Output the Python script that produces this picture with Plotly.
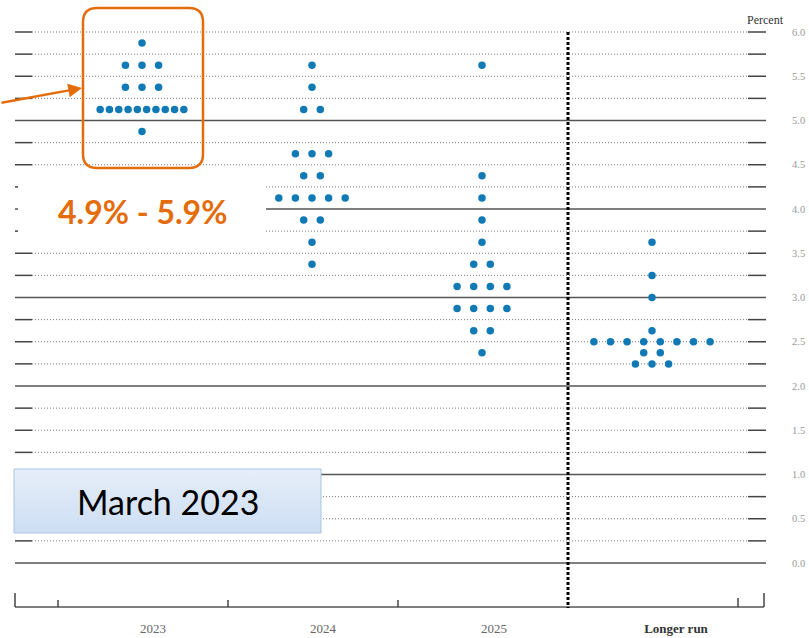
import plotly.graph_objects as go

# ---------------- data ----------------
categories = ["2023", "2024", "2025", "Longer run"]

rates_2023 = [5.875, 5.625, 5.375, 5.125, 4.875]
counts_2023 = [1, 3, 3, 10, 1]

rates_2024 = [5.625, 5.375, 5.125, 4.625, 4.375, 4.125, 3.875, 3.625, 3.375]
counts_2024 = [1, 1, 2, 3, 2, 5, 2, 1, 1]

rates_2025 = [5.625, 4.375, 4.125, 3.875, 3.625, 3.375, 3.125, 2.875, 2.625, 2.375]
counts_2025 = [1, 1, 1, 1, 1, 2, 4, 4, 2, 1]

rates_longer = [3.625, 3.25, 3.0, 2.625, 2.5, 2.375, 2.25]
counts_longer = [1, 1, 1, 1, 8, 2, 3]

y_ticks = [0.0, 0.5, 1.0, 1.5, 2.0, 2.5, 3.0, 3.5, 4.0, 4.5, 5.0, 5.5, 6.0]
grid_levels = [i * 0.25 for i in range(25)]

# ---------------- layout helpers ----------------
W, H = 809, 638
M_R, M_B = 22, 20
CAT_PX = 170.0          # pixel width of a category
C0_PX = 142.0           # pixel x of first category centre
Y0_PX = 563.0           # pixel y of 0 %
PX_PER_PCT = 88.5


def X(px):
    return (px - C0_PX) / CAT_PX


def Y(py):
    return (Y0_PX - py) / PX_PER_PCT


DOT_SP = 16.6 / CAT_PX
DOT_SP_TIGHT = 9.3 / CAT_PX
DOT_COLOR = "#117ab5"
ORANGE = "#e46c0a"
SERIF = "Liberation Serif, Times New Roman, serif"

series = [
    (rates_2023, counts_2023),
    (rates_2024, counts_2024),
    (rates_2025, counts_2025),
    (rates_longer, counts_longer),
]

fig = go.Figure()

# March 2023 label box (gradient fill) - decoration drawn first
bx = [X(14), X(321), X(321), X(14), X(14)]
by = [Y(533), Y(533), Y(469), Y(469), Y(533)]
fig.add_trace(go.Scatter(
    x=bx, y=by, mode="lines", fill="toself",
    line=dict(color="#a9c4e8", width=1),
    fillgradient=dict(type="vertical", start=Y(533), stop=Y(469),
                      colorscale=[[0, "#cddef3"], [1, "#e6eef9"]]),
    hoverinfo="skip", showlegend=False,
))

xs, ys = [], []
for ci, (rates, counts) in enumerate(series):
    for r, n in zip(rates, counts):
        sp = DOT_SP_TIGHT if n >= 10 else DOT_SP
        for j in range(n):
            xs.append(ci + (j - (n - 1) / 2) * sp)
            ys.append(r)

fig.add_trace(go.Scatter(
    x=xs, y=ys, mode="markers",
    marker=dict(color=DOT_COLOR, size=7.5, line=dict(width=0)),
    hoverinfo="skip", showlegend=False,
))

shapes = []
# grid lines
for lv in grid_levels:
    is_int = abs(lv - round(lv)) < 1e-9 and lv < 6
    if is_int:
        shapes.append(dict(type="line", xref="x", yref="y", x0=X(15), x1=X(766), y0=lv, y1=lv,
                           line=dict(color="#555555", width=1.5), layer="below"))
    else:
        shapes.append(dict(type="line", xref="x", yref="y", x0=X(32), x1=X(748), y0=lv, y1=lv,
                           line=dict(color="#7a7a7a", width=1, dash="1px,2px"), layer="below"))
        shapes.append(dict(type="line", xref="x", yref="y", x0=X(15), x1=X(32), y0=lv, y1=lv,
                           line=dict(color="#444444", width=1.5), layer="below"))
        shapes.append(dict(type="line", xref="x", yref="y", x0=X(748), x1=X(766), y0=lv, y1=lv,
                           line=dict(color="#444444", width=1.5), layer="below"))

# white patch behind the range label
shapes.append(dict(type="rect", xref="x", yref="y", x0=X(18), x1=X(266), y0=Y(240), y1=Y(176),
                   fillcolor="white", line=dict(width=0), layer="below"))

# bottom axis line and ticks
shapes.append(dict(type="line", xref="x", yref="y", x0=X(15), x1=X(764), y0=Y(607), y1=Y(607),
                   line=dict(color="#555555", width=1.5)))
for tx, top in [(15, 593), (58, 600), (228, 600), (398, 600), (738, 598), (764, 593)]:
    shapes.append(dict(type="line", xref="x", yref="y", x0=X(tx), x1=X(tx), y0=Y(607), y1=Y(top),
                       line=dict(color="#444444", width=1.5)))

# vertical dashed separator before "Longer run"
shapes.append(dict(type="line", xref="x", yref="y", x0=X(568), x1=X(568), y0=Y(32), y1=Y(608),
                   line=dict(color="black", width=3, dash="3px,2px")))

# orange rounded box
bx0, bx1, by0, by1, rr = 83, 203, 8, 168, 14
pts = [
    f"M {X(bx0 + rr)},{Y(by0)}",
    f"L {X(bx1 - rr)},{Y(by0)}",
    f"Q {X(bx1)},{Y(by0)} {X(bx1)},{Y(by0 + rr)}",
    f"L {X(bx1)},{Y(by1 - rr)}",
    f"Q {X(bx1)},{Y(by1)} {X(bx1 - rr)},{Y(by1)}",
    f"L {X(bx0 + rr)},{Y(by1)}",
    f"Q {X(bx0)},{Y(by1)} {X(bx0)},{Y(by1 - rr)}",
    f"L {X(bx0)},{Y(by0 + rr)}",
    f"Q {X(bx0)},{Y(by0)} {X(bx0 + rr)},{Y(by0)}",
    "Z",
]
shapes.append(dict(type="path", xref="x", yref="y", path=" ".join(pts),
                   line=dict(color=ORANGE, width=2.5), fillcolor="rgba(0,0,0,0)"))

annotations = [
    dict(x=X(142), y=Y(211), xref="x", yref="y", text="<b>4.9% - 5.9%</b>", showarrow=False,
         font=dict(family="Lato, Open Sans, sans-serif", size=32, color=ORANGE)),
    dict(x=X(168), y=Y(501), xref="x", yref="y", text="March 2023", showarrow=False,
         font=dict(family="Lato, Open Sans, sans-serif", size=34, color="black")),
    dict(x=X(82), y=Y(88), xref="x", yref="y", ax=X(0), ay=Y(103), axref="x", ayref="y",
         text="", showarrow=True, arrowhead=2, arrowsize=1.1, arrowwidth=2.5, arrowcolor=ORANGE),
    dict(x=X(765), y=Y(20), xref="x", yref="y", text="Percent", showarrow=False,
         font=dict(family=SERIF, size=12, color="#333333")),
]

label_shift_px = [11, 11, 12, 24]
tick_text = [c if c[0].isdigit() else f"<b><span style='color:#333333'>{c}</span></b>" for c in categories]

fig.update_layout(
    width=W, height=H,
    margin=dict(l=0, r=M_R, t=0, b=M_B, autoexpand=False),
    paper_bgcolor="white", plot_bgcolor="white",
    showlegend=False,
    shapes=shapes,
    annotations=annotations,
    xaxis=dict(range=[X(0), X(W - M_R)], showgrid=False, zeroline=False, showline=False,
               ticks="", tickvals=[i + s / CAT_PX for i, s in enumerate(label_shift_px)],
               ticktext=tick_text, ticklabelstandoff=1, automargin=False,
               tickfont=dict(family=SERIF, size=13, color="#666666"),
               fixedrange=True),
    yaxis=dict(range=[Y(H - M_B), Y(0)], side="right", showgrid=False, zeroline=False, showline=False,
               ticks="", tickvals=y_ticks, ticktext=[f"{v:.1f}" for v in y_ticks],
               ticklabelstandoff=4, automargin=False,
               tickfont=dict(family=SERIF, size=10.5, color="#999999"),
               fixedrange=True),
)

fig.write_html(
    "out.html",
    config={"displayModeBar": False},
    post_script="document.body.style.margin='0px';document.body.style.overflow='hidden';",
)
